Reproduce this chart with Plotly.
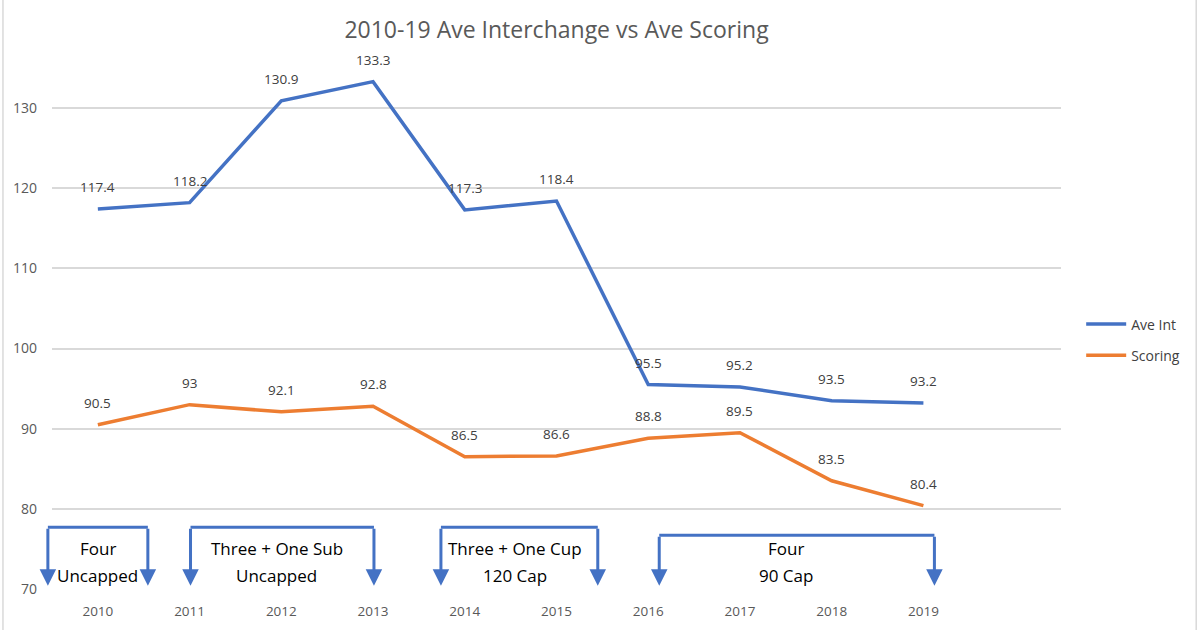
import plotly.graph_objects as go

years = ["2010", "2011", "2012", "2013", "2014", "2015", "2016", "2017", "2018", "2019"]
ave_int = [117.4, 118.2, 130.9, 133.3, 117.3, 118.4, 95.5, 95.2, 93.5, 93.2]
scoring = [90.5, 93, 92.1, 92.8, 86.5, 86.6, 88.8, 89.5, 83.5, 80.4]
ave_int_labels = ["117.4", "118.2", "130.9", "133.3", "117.3", "118.4", "95.5", "95.2", "93.5", "93.2"]
scoring_labels = ["90.5", "93", "92.1", "92.8", "86.5", "86.6", "88.8", "89.5", "83.5", "80.4"]
y_ticks = [70, 80, 90, 100, 110, 120, 130]

# rule periods: (start index, end index, top of bracket, line1, line2, text x)
periods = [
    (-0.545, 0.545, 77.7, "Four", "Uncapped", 0.0),
    (1.01, 3.01, 77.7, "Three + One Sub", "Uncapped", 1.95),
    (3.74, 5.45, 77.7, "Three + One Cup", "120 Cap", 4.55),
    (6.12, 9.12, 76.7, "Four", "90 Cap", 7.5),
]

BLUE = "#4472C4"
ORANGE = "#ED7D31"
FONT = "Open Sans"
xi = list(range(len(years)))
NCAT = 11  # axis holds one empty slot on the right


def to_paper(idx):
    return (idx + 0.5) / NCAT


fig = go.Figure()
fig.add_trace(go.Scatter(
    x=xi, y=ave_int, mode="lines", name="Ave Int", legendgroup="a",
    line=dict(color=BLUE, width=3.5),
))
fig.add_trace(go.Scatter(
    x=xi, y=scoring, mode="lines", name="Scoring", legendgroup="b",
    line=dict(color=ORANGE, width=3.5),
))

shapes = []
annotations = []
for vals, labs in ((ave_int, ave_int_labels), (scoring, scoring_labels)):
    for i, (v, lab) in enumerate(zip(vals, labs)):
        annotations.append(dict(x=i, y=v, xref="x", yref="y", text=lab, showarrow=False,
                                xanchor="center", yanchor="middle",
                                yshift=22, font=dict(family=FONT, size=13.5, color="#404040")))

for x0, x1, ytop, t1, t2, tx in periods:
    shapes.append(dict(type="line", xref="paper", yref="y", x0=to_paper(x0), x1=to_paper(x1),
                       y0=ytop, y1=ytop, line=dict(color=BLUE, width=3)))
    for xx in (x0, x1):
        annotations.append(dict(x=to_paper(xx), y=70.4, ax=0, ay=ytop, xref="paper", yref="y",
                                axref="pixel", ayref="y", showarrow=True, arrowhead=2,
                                arrowsize=1.1, arrowwidth=3, arrowcolor=BLUE, text=""))
    for ty, tt in ((75.0, t1), (71.7, t2)):
        annotations.append(dict(x=to_paper(tx), y=ty, xref="paper", yref="y", text=tt,
                                showarrow=False, xanchor="center", yanchor="middle",
                                font=dict(family=FONT, size=17, color="#000000")))

# chart border
shapes.append(dict(type="line", xref="paper", yref="paper", x0=-0.0486, x1=-0.0486, y0=-0.1, y1=1.2,
                   line=dict(color="#D9D9D9", width=1.5)))
shapes.append(dict(type="line", xref="paper", yref="paper", x0=1.134, x1=1.134, y0=-0.1, y1=1.2,
                   line=dict(color="#D9D9D9", width=1.5)))

fig.update_layout(
    width=1200, height=630,
    margin=dict(l=52, r=139, t=68, b=41),
    paper_bgcolor="white", plot_bgcolor="white",
    title=dict(text="2010-19 Ave Interchange vs Ave Scoring", x=0.5, xref="paper",
               y=0.952, yanchor="middle",
               font=dict(family=FONT, size=23, color="#595959")),
    showlegend=True,
    legend=dict(x=1.02, y=0.478, xanchor="left", yanchor="middle",
                font=dict(family=FONT, size=14, color="#404040"),
                tracegroupgap=10, itemwidth=40),
    shapes=shapes,
    annotations=annotations,
)
fig.update_xaxes(
    range=[-0.5, NCAT - 0.5], tickmode="array", tickvals=xi, ticktext=years,
    showgrid=False, zeroline=False, showline=False, ticks="",
    tickfont=dict(family=FONT, size=13.5, color="#595959"),
    ticklabelstandoff=12, automargin=False,
)
fig.update_yaxes(
    range=[70, 135], tickmode="array", tickvals=y_ticks,
    showgrid=True, gridcolor="#D9D9D9", gridwidth=1.5, zeroline=False, showline=False,
    tickfont=dict(family=FONT, size=14, color="#595959"),
    ticklabelstandoff=14, automargin=False,
)

fig.write_html("out.html")
